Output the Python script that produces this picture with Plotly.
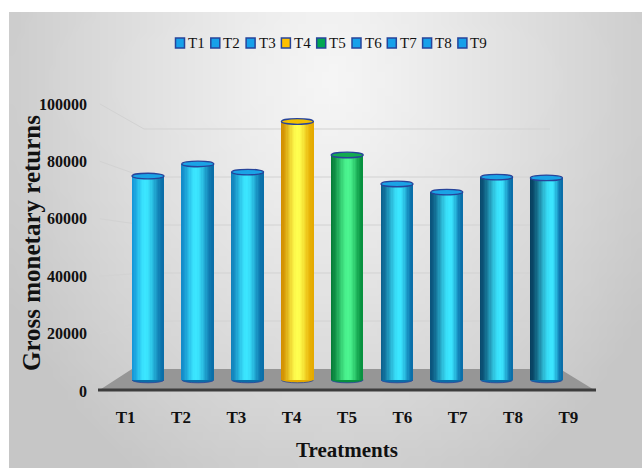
import base64, struct, zlib, math
import plotly.graph_objects as go

# ---------------- data ----------------
treatments = ["T1", "T2", "T3", "T4", "T5", "T6", "T7", "T8", "T9"]
gross_returns = [77400, 82000, 78900, 98100, 85400, 74400, 71300, 77000, 76700]
y_ticks = [0, 20000, 40000, 60000, 80000, 100000]
y_title = "Gross monetary returns"
x_title = "Treatments"

# ---------------- styles ----------------
bar_palette = ["blue", "blue", "blue", "yellow", "green", "blue", "blue", "blue", "blue"]
PAL = {
    "blue":   dict(ln="#1596d8", lf="#073f5f", hi="#3be6ff", r="#0a6ea8", mid="#1aa3e6", leg="#16a0ea"),
    "yellow": dict(ln="#e3a200", lf="#b56d00", hi="#ffff50", r="#e5aa00", mid="#f2c000", leg="#ffc000"),
    "green":  dict(ln="#0c9c48", lf="#005c28", hi="#4cf590", r="#07913f", mid="#13aa50", leg="#00a651"),
}
RIM = "#27449a"
FONT = "Liberation Serif"

W, H = 642, 468
PL, PR, PT, PB = 98, 596, 78, 391          # plot area in page pixels
FRONT_PX = 2.87                              # px per 1000 at the front plane
BAR_PX = 2.635                               # px per 1000 at the bars' depth
BAR_BASE_PX = 380
BAR_SLOT = 49.8
BAR_FIRST = 148
BAR_W = 32 / BAR_SLOT


def hx(c):
    c = c.lstrip("#")
    return [int(c[i:i + 2], 16) for i in (0, 2, 4)]


def mix(a, b, t):
    a, b = hx(a) if isinstance(a, str) else a, hx(b) if isinstance(b, str) else b
    return [a[k] + (b[k] - a[k]) * t for k in range(3)]


def css(c):
    return "rgb(%d,%d,%d)" % tuple(int(round(v)) for v in c)


def smooth(t):
    t = max(0.0, min(1.0, t))
    return t * t * (3 - 2 * t)


def strip_color(i, t):
    p = PAL[bar_palette[i]]
    f = i / (len(treatments) - 1)
    left = mix(p["ln"], p["lf"], f)
    h = 0.42 + 0.25 * f
    if t < h:
        return css(mix(left, p["hi"], smooth(t / h) ** 0.9))
    return css(mix(p["hi"], p["r"], smooth((t - h) / (1 - h))))


def pxx(p):
    return (p - PL) / (PR - PL)


def pxy(p):
    return (PB - p) / (PB - PT)


# ---------------- background image (radial grey gradient) ----------------
def make_png(w, h, fn):
    raw = b""
    for yy in range(h):
        row = b"\x00"
        for xx in range(w):
            row += bytes(fn(xx, yy))
        raw += row
    def chunk(tag, data):
        c = struct.pack(">I", len(data)) + tag + data
        return c + struct.pack(">I", zlib.crc32(tag + data) & 0xffffffff)
    png = b"\x89PNG\r\n\x1a\n" + chunk(b"IHDR", struct.pack(">IIBBBBB", w, h, 8, 2, 0, 0, 0))
    png += chunk(b"IDAT", zlib.compress(raw, 9)) + chunk(b"IEND", b"")
    return "data:image/png;base64," + base64.b64encode(png).decode()

BX0, BY0 = 9, 12
GW, GH = 80, 57


def grad(xx, yy):
    X = BX0 + (xx + 0.5) * (W - BX0) / GW
    Y = BY0 + (yy + 0.5) * (H - BY0) / GH
    d = math.sqrt(((X - 330) / 370) ** 2 + ((Y - 80) / 470) ** 2)
    v = 246 - 48 * min(d, 1.0) ** 1.2
    v = int(max(0, min(255, v)))
    return (v, v, v)

bg = make_png(GW, GH, grad)

# ---------------- figure ----------------
fig = go.Figure()
# anchor trace so that the labelled front axes are drawn
fig.add_trace(go.Scatter(x=[None], y=[None], xaxis="x", yaxis="y", mode="markers",
                         showlegend=False, hoverinfo="skip"))

N = 24
for k in range(N):
    t = (k + 0.5) / N
    fig.add_trace(go.Bar(
        x=treatments, y=gross_returns, xaxis="x2", yaxis="y2",
        width=BAR_W / N * 1.1, offset=-BAR_W / 2 + k * BAR_W / N,
        marker=dict(color=[strip_color(i, t) for i in range(len(treatments))], line=dict(width=0)),
        showlegend=False, hoverinfo="skip",
    ))

shapes = []
# floor
fl = [(PL, PB), (PR, PB), (560, 369), (132, 369)]
shapes.append(dict(type="path", xref="paper", yref="paper", layer="below",
                   path="M" + " L".join("%f,%f" % (pxx(a), pxy(b)) for a, b in fl) + " Z",
                   fillcolor="#969696", line=dict(width=0)))
shapes.append(dict(type="line", xref="paper", yref="paper", layer="below",
                   x0=pxx(PL), x1=pxx(PR), y0=pxy(390), y1=pxy(390),
                   line=dict(color="#3d3d3d", width=3)))
# wall grid lines
for v in y_ticks[1:]:
    yf = PB - FRONT_PX * v / 1000
    yb = 369 - 2.4 * v / 1000
    shapes.append(dict(type="path", xref="paper", yref="paper", layer="below",
                       path="M%f,%f L%f,%f L%f,%f" % (pxx(100), pxy(yf), pxx(144), pxy(yb), pxx(550), pxy(yb)),
                       line=dict(color="#d2d2d2", width=1)))

eh = 2.8 / BAR_PX * 1000
for i, v in enumerate(gross_returns):
    p = PAL[bar_palette[i]]
    shapes.append(dict(type="circle", xref="x2", yref="y2", layer="below",
                       x0=i - BAR_W / 2, x1=i + BAR_W / 2, y0=-eh, y1=eh,
                       fillcolor=p["r"], line=dict(color=RIM, width=0.8)))
    shapes.append(dict(type="circle", xref="x2", yref="y2", layer="above",
                       x0=i - BAR_W / 2, x1=i + BAR_W / 2, y0=v - eh, y1=v + eh,
                       fillcolor=p["mid"], line=dict(color=RIM, width=1.3)))

# custom legend
annotations = []
for i, name in enumerate(treatments):
    cx = 180 + 35.3 * i
    cy = 43
    shapes.append(dict(type="rect", xref="paper", yref="paper", layer="above",
                       x0=pxx(cx - 4.5), x1=pxx(cx + 4.5), y0=pxy(cy + 5), y1=pxy(cy - 5),
                       fillcolor=PAL[bar_palette[i]]["leg"], line=dict(color=RIM, width=1.5)))
    annotations.append(dict(xref="paper", yref="paper", x=pxx(cx + 6), y=pxy(cy), xanchor="left",
                            yanchor="middle", text=name, showarrow=False,
                            font=dict(family=FONT, size=15, color="#111111")))

# y-axis title
annotations.append(dict(xref="paper", yref="paper", x=pxx(31), y=pxy(243), xanchor="center",
                        yanchor="middle", text=y_title, textangle=-90, showarrow=False,
                        font=dict(family=FONT, size=25, color="#111111", weight="bold")))

fig.update_layout(
    width=W, height=H,
    margin=dict(l=PL, r=W - PR, t=PT, b=H - PB, pad=0, autoexpand=False),
    paper_bgcolor="white", plot_bgcolor="rgba(0,0,0,0)",
    barmode="overlay", bargap=0, showlegend=False,
    images=[dict(source=bg, xref="paper", yref="paper", x=pxx(BX0), y=pxy(BY0),
                 sizex=(W - BX0) / (PR - PL), sizey=(H - BY0) / (PB - PT),
                 xanchor="left", yanchor="top", sizing="stretch", layer="below")],
    shapes=shapes, annotations=annotations,
    xaxis=dict(range=[-0.5, 8.5], tickmode="array", tickvals=list(range(len(treatments))),
               ticktext=treatments, showgrid=False, zeroline=False, showline=False,
               ticks="", ticklabelstandoff=14, automargin=False,
               tickfont=dict(family=FONT, size=17, color="#111111", weight="bold"),
               title=dict(text=x_title, standoff=16,
                          font=dict(family=FONT, size=21, color="#111111", weight="bold"))),
    yaxis=dict(range=[0, (PB - PT) / FRONT_PX * 1000], tickmode="array", tickvals=y_ticks,
               tickformat="d", showgrid=False, zeroline=False, showline=False, ticks="",
               ticklabelstandoff=10, automargin=False,
               tickfont=dict(family=FONT, size=16, color="#111111", weight="bold")),
    xaxis2=dict(type="category", overlaying="x", range=[-(BAR_FIRST - PL) / BAR_SLOT,
                (PR - PL) / BAR_SLOT - (BAR_FIRST - PL) / BAR_SLOT], visible=False),
    yaxis2=dict(overlaying="y", range=[-(PB - BAR_BASE_PX) / BAR_PX * 1000,
                (BAR_BASE_PX - PT) / BAR_PX * 1000], visible=False),
)

fig.write_html("out.html")
